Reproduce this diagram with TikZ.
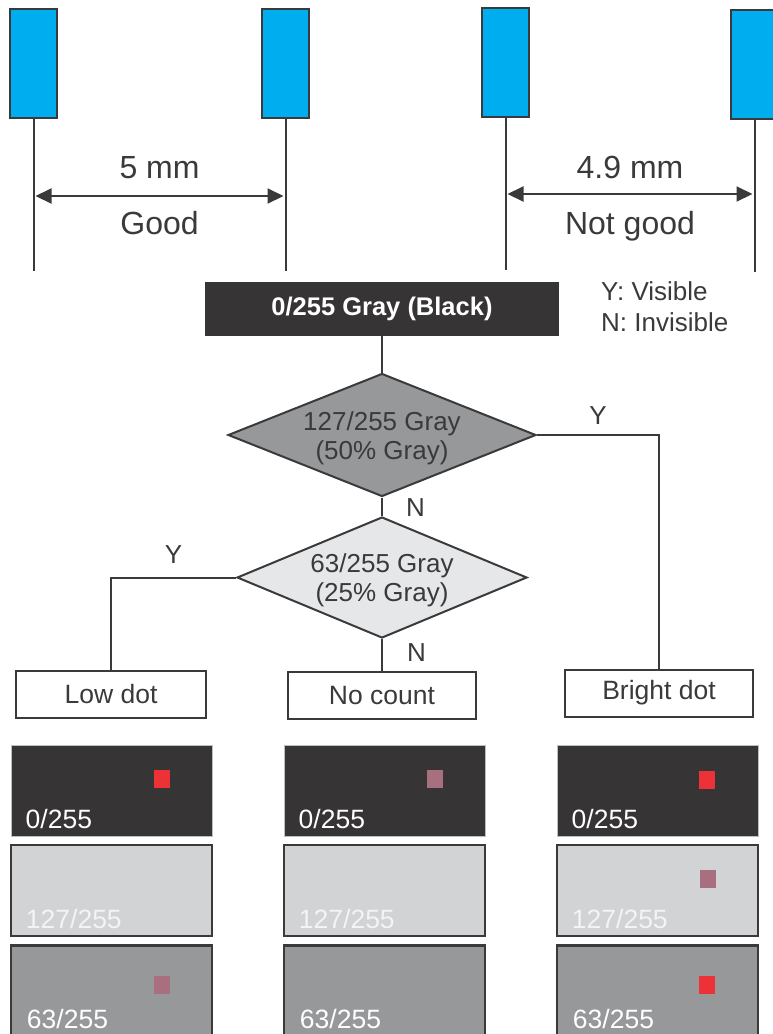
\documentclass[tikz,border=0pt]{standalone}
\usepackage{fontspec}
\setmainfont{Liberation Sans}
\usetikzlibrary{arrows.meta,positioning,shapes.geometric}

\definecolor{pinblue}{HTML}{00AEEF}
\definecolor{ink}{HTML}{3A3A3C}
\definecolor{nearblack}{HTML}{363435}
\definecolor{midgray}{HTML}{97989A}
\definecolor{palegray}{HTML}{E6E7E8}
\definecolor{lightpanel}{HTML}{D1D3D4}
\definecolor{rimgray}{HTML}{BCBEC0}
\definecolor{dotred}{HTML}{ED3237}
\definecolor{dotmauve}{HTML}{A8707E}
\definecolor{fadewhite}{HTML}{F4F4F4}

\begin{document}
\begin{tikzpicture}[x=1pt, y=-1pt,
  pin/.style={draw=ink, line width=2pt, fill=pinblue, minimum width=47pt, minimum height=109pt, inner sep=0pt},
  wire/.style={draw=ink, line width=2pt},
  dimarrow/.style={{Triangle[length=16pt,width=15pt]}-{Triangle[length=16pt,width=15pt]}, draw=ink, line width=2pt},
  big/.style={font=\fontsize{32}{36}\selectfont, text=ink, inner sep=0pt},
  txt/.style={font=\fontsize{26}{29}\selectfont, text=ink, inner sep=0pt},
  decision/.style={diamond, draw=ink, line width=2pt, inner sep=0pt},
  result/.style={draw=ink, line width=2pt, fill=white, minimum width=188pt, minimum height=47pt, inner sep=0pt, font=\fontsize{26.5}{30}\selectfont, text=ink},
  panel/.style={minimum width=201pt, minimum height=91pt, inner sep=0pt},
  plab/.style={anchor=base west, font=\fontsize{26.5}{30}\selectfont, inner sep=0pt},
  dot/.style={minimum width=16pt, minimum height=18pt, inner sep=0pt}
]
\useasboundingbox (0,0) rectangle (772,1034);

% electrode pairs
\foreach \n/\x/\y in {p1/33.5/63.5, p2/285.5/63.5, p3/505.5/62.5, p4/754.5/64} {
  \node[pin] (\n) at (\x,\y) {};
  \draw[wire] (\n.south) -- ++(0,152);
}
\path (p1.south) ++(2,77) coordinate (g1);
\path (g1 -| p2.south) ++(-2,0) coordinate (g2);
\path (p3.south) ++(2,76) coordinate (g3);
\path (g3 -| p4.south) ++(-2,0) coordinate (g4);
\draw[dimarrow] (g1) -- (g2)
  node[big, midway, anchor=base, yshift=18pt] (gap1) {5 mm}
  node[big, midway, anchor=base, yshift=-38pt] (ok1) {Good};
\draw[dimarrow] (g3) -- (g4)
  node[big, midway, anchor=base, yshift=16pt] (gap2) {4.9 mm}
  node[big, midway, anchor=base, yshift=-40pt] (ok2) {Not good};

% flow chart
\node[fill=nearblack, minimum width=354pt, minimum height=54pt, text=white,
  font=\bfseries\fontsize{25.5}{29}\selectfont] (start) at (382,309) {0/255 Gray (Black)};
\node[txt, anchor=base west] (legy) at (601,300) {Y: Visible};
\node[txt, anchor=base west] (legn) at (601,331) {N: Invisible};

\node[decision, fill=midgray, minimum width=308pt, minimum height=123pt] (d1) at (382,435) {};
\node[txt, align=center] (d1t) at (382,438) {127/255 Gray\\(50\% Gray)};
\node[decision, fill=palegray, minimum width=290pt, minimum height=121pt] (d2) at (382,577.5) {};
\node[txt, align=center] (d2t) at (382,580) {63/255 Gray\\(25\% Gray)};

\node[result, minimum width=190pt] (low) at (111,694) {Low dot};
\node[result] (nocount) at (382,695.5) {No count};
\node[result] (bright) at (659,693) {Bright dot};

\draw[wire] (start.south) -- (d1.north);
\draw[wire] (d1.south) -- (d2.north)
  node[txt, at end, anchor=base west, xshift=23pt] (n1) {N};
\draw[wire] (d2.south) -- (nocount.north)
  node[txt, at end, anchor=base west, xshift=24pt, yshift=10pt] (n2) {N};
\draw[wire] (d1.east) -| (bright.north)
  node[txt, pos=0.25, anchor=base, yshift=11pt] (y1) {Y};
\draw[wire] (d2.west) -| (low.north)
  node[txt, pos=0.25, anchor=base, yshift=14pt] (y2) {Y};

% sample screens
\foreach \c/\cx in {1/111.5, 2/384.5, 3/657.5} {
  \node[panel, fill=nearblack, draw=rimgray, line width=1pt] (blk\c) at (\cx,790.5) {};
  \node[plab, text=white] (blk\c t) at ([xshift=15pt,yshift=8pt]blk\c.south west) {0/255};
  \node[panel, fill=lightpanel, draw=ink, line width=2.5pt] (lit\c) at (\cx,890.5) {};
  \node[plab, text=fadewhite] (lit\c t) at ([xshift=16pt,yshift=9pt]lit\c.south west) {127/255};
  \node[panel, fill=midgray, draw=ink, line width=2.5pt] (mid\c) at (\cx,991) {};
  \node[plab, text=white] (mid\c t) at ([xshift=17pt,yshift=9pt]mid\c.south west) {63/255};
}
\foreach \x/\y/\col [count=\i] in {161.5/778.5/dotred, 434.5/779/dotmauve, 707/779.5/dotred,
    707.5/879/dotmauve, 161.5/985/dotmauve, 707/984.5/dotred} {
  \node[dot, fill=\col] (dot\i) at (\x,\y) {};
}
\end{tikzpicture}
\end{document}
